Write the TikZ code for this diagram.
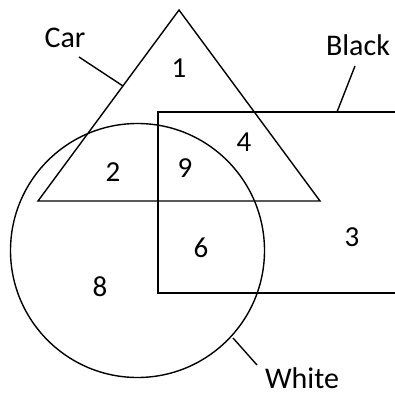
\documentclass[tikz,border=0pt]{standalone}
\usepackage{fontspec}
\setmainfont{Carlito}
\begin{document}
\begin{tikzpicture}[x=1pt,y=-1pt,
  shape line/.style={line width=1.4pt, black},
  num/.style={font=\fontsize{29}{29}\selectfont, inner sep=0pt},
  lab/.style={font=\fontsize{30}{30}\selectfont, inner sep=0pt}]
\useasboundingbox[fill=white] (0,0) rectangle (395,396);
% shapes
\coordinate (tA) at (179,10);
\coordinate (tL) at (38,201);
\coordinate (tR) at (320,201);
\draw[shape line] (tA) -- (tL) -- (tR) -- cycle;
\coordinate (rTL) at (158,112);
\coordinate (rBR) at (420,293);
\draw[shape line] (420,112) -- (rTL) -- (158,293) -- (rBR);
\node[draw, shape line, circle, minimum size=254pt, inner sep=0pt] (white) at (137.5,250.5) {};
% labels
\node[lab] (car) at (65,38) {Car};
\node[lab] (black) at (358,45) {Black};
\node[lab] (whitelab) at (302,378) {White};
\coordinate (carEnd) at (123,86);
\coordinate (carStart) at (79,57);
\draw[shape line] (carStart) -- (carEnd);
\coordinate (blackStart) at (355,66);
\coordinate (blackEnd) at (337,112);
\draw[shape line] (blackStart) -- (blackEnd);
\coordinate (whiteStart) at (233,338);
\coordinate (whiteEnd) at (257,365);
\draw[shape line] (whiteStart) -- (whiteEnd);
% numbers
\node[num] (n1) at (179,68) {1};
\node[num] (n4) at (244,142) {4};
\node[num] (n2) at (113,172) {2};
\node[num] (n9) at (185,168) {9};
\node[num] (n6) at (201,248) {6};
\node[num] (n3) at (352,237) {3};
\node[num] (n8) at (100,287) {8};
\end{tikzpicture}
\end{document}
